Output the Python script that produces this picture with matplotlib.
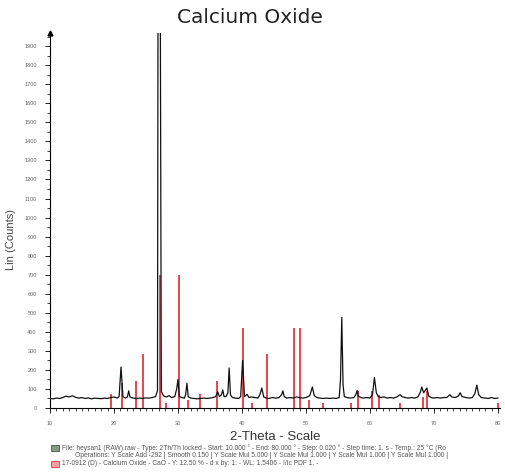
import matplotlib
matplotlib.use("Agg")
from matplotlib import pyplot as plt
from matplotlib.ticker import MultipleLocator
from matplotlib.patches import Rectangle

###
# XRD pattern of calcium oxide with reference sticks
###

theta = [10.0, 10.5, 11.0, 11.5, 12.0, 12.5, 13.0, 13.5, 14.0, 14.5, 15.0, 15.5,
         16.0, 16.5, 17.0, 17.5, 18.0, 18.5, 19.0, 19.5, 20.0, 20.5, 20.8, 21.1,
         21.4, 21.8, 22.1, 22.3, 22.5, 23.0, 23.5, 24.0, 24.5, 25.0, 25.5, 26.0,
         26.5, 26.8, 26.9, 27.2, 27.4, 27.8, 28.2, 28.6, 29.0, 29.5, 29.8, 30.0,
         30.2, 30.6, 31.0, 31.2, 31.4, 31.6, 32.0, 32.5, 33.0, 33.5, 34.0, 34.5,
         35.0, 35.5, 35.9, 36.2, 36.5, 36.8, 37.0, 37.2, 37.5, 37.8, 38.0, 38.2,
         38.5, 39.0, 39.5, 39.8, 40.1, 40.4, 40.8, 41.1, 41.5, 42.0, 42.5, 42.8,
         43.1, 43.4, 43.8, 44.2, 44.8, 45.3, 45.8, 46.2, 46.4, 46.6, 47.0, 47.5,
         48.0, 48.5, 49.0, 49.5, 50.0, 50.6, 51.0, 51.3, 51.7, 52.2, 52.7, 53.2,
         53.7, 54.2, 54.7, 55.2, 55.4, 55.6, 55.8, 56.0, 56.4, 57.0, 57.5, 57.8,
         58.0, 58.2, 58.6, 59.0, 59.5, 60.0, 60.4, 60.7, 61.0, 61.3, 61.7, 62.2,
         62.7, 63.2, 63.7, 64.2, 64.7, 65.0, 65.5, 66.0, 66.5, 67.0, 67.5, 67.9,
         68.1, 68.4, 68.9, 69.2, 69.6, 70.0, 70.5, 71.0, 71.5, 72.0, 72.5, 72.8,
         73.3, 73.8, 74.1, 74.4, 75.0, 75.5, 76.0, 76.4, 76.7, 77.0, 77.4, 78.0,
         78.5, 79.0, 79.5, 80.0]
counts = [50, 48, 52, 50, 55, 62, 58, 64, 56, 52, 55, 50,
          53, 48, 52, 50, 49, 52, 50, 55, 58, 52, 60, 215,
          60, 52, 58, 90, 58, 52, 50, 52, 50, 53, 52, 55,
          60, 90, 2600, 2600, 85, 62, 58, 65, 55, 60, 100, 150,
          60, 55, 52, 70, 130, 60, 52, 50, 48, 50, 52, 50,
          52, 55, 60, 85, 60, 70, 95, 60, 60, 80, 210, 70,
          55, 52, 50, 60, 250, 60, 72, 55, 58, 55, 52, 70,
          105, 58, 52, 50, 55, 52, 55, 70, 90, 60, 52, 55,
          52, 58, 55, 52, 55, 65, 110, 65, 55, 52, 50, 52,
          50, 52, 50, 55, 150, 475, 120, 60, 55, 52, 55, 70,
          92, 62, 55, 52, 55, 52, 70, 160, 80, 60, 55, 58,
          52, 55, 52, 58, 70, 60, 55, 52, 55, 52, 58, 85,
          110, 80, 105, 62, 55, 52, 55, 52, 55, 55, 70, 58,
          55, 62, 80, 60, 55, 52, 55, 75, 120, 70, 55, 52,
          50, 55, 50, 52]

# reference pattern 17-0912 (CaO) sticks
ref_theta = [19.6, 21.2, 23.5, 24.5, 27.2, 28.1, 30.2, 31.5, 33.4, 36.1, 40.1, 41.5,
             43.9, 48.2, 49.1, 50.5, 52.7, 57.1, 58.1, 60.3, 61.4, 64.7, 68.3, 68.9, 80.0]
ref_counts = [74, 130, 140, 285, 700, 25, 700, 40, 75, 140, 420, 25,
              285, 420, 420, 40, 25, 25, 90, 90, 70, 25, 60, 90, 25]

legend_lines = [
    "File: heysan1 (RAW).raw - Type: 2Th/Th locked - Start: 10.000 \u00b0 - End: 80.000 \u00b0 - Step: 0.020 \u00b0 - Step time: 1. s - Temp.: 25 \u00b0C (Ro",
    "Operations: Y Scale Add -292 | Smooth 0.150 | Y Scale Mul 5.000 | Y Scale Mul 1.000 | Y Scale Mul 1.000 | Y Scale Mul 1.000 |",
    "17-0912 (D) - Calcium Oxide - CaO - Y: 12.50 % - d x by: 1. - WL: 1.5406 - I/Ic PDF 1. -",
]

plt.rcParams['font.family'] = ['Liberation Sans', 'DejaVu Sans']

fig = plt.figure(figsize=(5.06, 4.72), dpi=100)
ax = fig.add_axes([0.0988, 0.1356, 0.889, 0.794])

ax.vlines(ref_theta, 0, ref_counts, color="#e0141e", linewidth=1.1, zorder=2)
ax.plot(theta, counts, color="#111111", linewidth=0.9, zorder=3)

ax.set_xlim(10, 80.3)
ax.set_ylim(0, 1968)
ax.xaxis.set_major_locator(MultipleLocator(10))
ax.xaxis.set_minor_locator(MultipleLocator(1))
ax.yaxis.set_major_locator(MultipleLocator(100))
ax.yaxis.set_minor_locator(MultipleLocator(50))
ax.tick_params(axis="both", which="major", labelsize=4, labelcolor="#666666",
               length=3.5, width=0.6, pad=6)
ax.tick_params(axis="both", which="minor", length=2, width=0.5)

for s in ["top", "right"]:
    ax.spines[s].set_visible(False)
ax.spines["left"].set_linewidth(0.8)
ax.spines["bottom"].set_linewidth(0.8)
ax.plot(0, 1, marker="^", color="black", markersize=3.5, transform=ax.transAxes, clip_on=False)

ax.set_ylabel("Lin (Counts)", fontsize=8, color="#444444")
ax.yaxis.set_label_coords(-0.075, 0.45)
ax.set_xlabel("2-Theta - Scale", fontsize=9.5, color="#333333", va="center")
ax.xaxis.set_label_coords(0.5, -0.077)

fig.text(0.494, 0.962, "Calcium Oxide", ha="center", va="center", fontsize=14.5,
         color="#222222", family="DejaVu Sans")

# legend block under the axis
ys = [0.051, 0.034, 0.017]
xs = [0.122, 0.148, 0.122]
for y, x, line in zip(ys, xs, legend_lines):
    fig.text(x, y, line, fontsize=4.8, color="#555555", va="center")
fig.patches.append(Rectangle((0.101, 0.044), 0.016, 0.014, transform=fig.transFigure,
                             facecolor="#889988", edgecolor="#333333", linewidth=0.5))
fig.patches.append(Rectangle((0.101, 0.010), 0.016, 0.014, transform=fig.transFigure,
                             facecolor="#f4a0a0", edgecolor="#e0141e", linewidth=0.5))

plt.savefig("out.png", dpi=100)
